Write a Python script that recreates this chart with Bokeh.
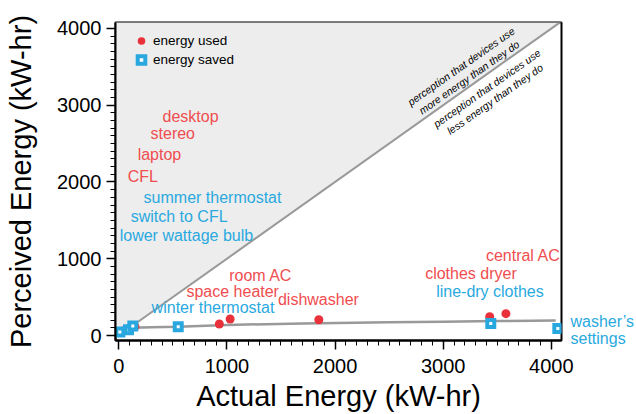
import math
from bokeh.plotting import figure
from bokeh.models import Range1d, Label, Legend, LegendItem, FixedTicker, LinearAxis
from bokeh.embed import file_html
from bokeh.resources import INLINE

# ---------------- data ----------------
used_names = ["CFL", "laptop", "stereo", "desktop", "space heater", "room AC",
              "dishwasher", "clothes dryer", "central AC"]
used_actual = [20, 45, 70, 150, 930, 1030, 1850, 3430, 3580]
used_perceived = [40, 60, 75, 115, 150, 215, 205, 245, 285]

saved_names = ["lower wattage bulb", "switch to CFL", "summer thermostat",
               "winter thermostat", "line-dry clothes", "washer\u2019s\nsettings"]
saved_actual = [10, 90, 130, 550, 3440, 4060]
saved_perceived = [45, 75, 125, 115, 155, 90]

fit_actual = [5, 30, 80, 130, 300, 550, 1000, 1700, 2500, 3000, 3500, 4040]
fit_perceived = [20, 60, 90, 100, 108, 115, 138, 157, 172, 180, 188, 195]

x_ticks = [0, 1000, 2000, 3000, 4000]
y_ticks = [0, 1000, 2000, 3000, 4000]

# label anchor positions (annotation layout, data units)
used_label_x = [83, 175, 294, 405, 626, 1021, 1472, 2833, 3395]
used_label_y = [2071, 2356, 2628, 2848, 570, 777, 466, 803, 1036]
saved_label_x = [9, 110, 230, 304, 2935, 4177]
saved_label_y = [1307, 1553, 1799, 362, 570, 181]

X_START, X_END = -30, 4094
Y_START, Y_END = -65, 4078

RED = "#e8313a"
RED_TXT = "#ef4d4f"
BLUE = "#29a8e0"
BLUE_TXT = "#2aa9e0"
FONT = "Liberation Sans"

p = figure(width=636, height=414, output_backend="svg", toolbar_location=None,
           x_range=Range1d(X_START, X_END), y_range=Range1d(Y_START, Y_END),
           min_border_left=115, min_border_right=73, min_border_top=22,
           min_border_bottom=72)
p.background_fill_color = "white"
p.border_fill_color = "white"
p.outline_line_color = "black"
p.outline_line_width = 2
p.xgrid.visible = False
p.ygrid.visible = False

# shaded region above y = x
p.patch([0, 10000, -1000, -1000], [0, 10000, 10000, 0],
        fill_color="#ededed", line_color=None)
p.line([0, 10000], [0, 10000], line_color="#999999", line_width=2)

# fitted curve
p.line(fit_actual, fit_perceived, line_color="#999999", line_width=2.5)

r_used = p.scatter(used_actual, used_perceived, marker="circle", size=9,
                   fill_color=RED, line_color=None)
r_saved = p.scatter(saved_actual, saved_perceived, marker="square", size=7,
                    fill_color="white", line_color=BLUE, line_width=4,
                    line_join="miter")

# text labels; those beyond the plotted x range go on a bare right-hand axis
ppy = 320 / (Y_END - Y_START)   # pixels per data unit (y)
LINE_STEP = 17 / ppy

right_ticks, right_over = [], {}

def add_labels(names, xs, ys, color):
    for name, x, y in zip(names, xs, ys):
        lines = name.split("\n")
        for i, line in enumerate(lines):
            yy = y - i * LINE_STEP
            if x > X_END:
                right_ticks.append(round(yy))
                right_over[round(yy)] = line
            else:
                p.add_layout(Label(x=x, y=yy, text=line,
                                   text_color=color, text_font=FONT,
                                   text_font_size="16px", text_align="left",
                                   text_baseline="middle"))

add_labels(used_names, used_label_x, used_label_y, RED_TXT)
add_labels(saved_names, saved_label_x, saved_label_y, BLUE_TXT)

if right_ticks:
    rax = LinearAxis(ticker=FixedTicker(ticks=right_ticks, minor_ticks=[]),
                     major_label_overrides=right_over)
    rax.axis_line_color = None
    rax.major_tick_line_color = None
    rax.minor_tick_line_color = None
    rax.major_tick_out = 0
    rax.major_label_standoff = 9
    rax.major_label_text_font = FONT
    rax.major_label_text_font_size = "16px"
    rax.major_label_text_color = BLUE_TXT
    p.add_layout(rax, "right")

# diagonal annotations
ang = math.radians(35)
diag_text = [("perception that devices use", 3165, 3508),
             ("more energy than they do", 3238, 3366),
             ("perception that devices use", 3404, 3223),
             ("less energy than they do", 3477, 3081)]
for t, x, y in diag_text:
    p.add_layout(Label(x=x, y=y, text=t, angle=ang, text_font=FONT,
                       text_font_style="italic", text_font_size="10.5px",
                       text_color="black", text_align="center",
                       text_baseline="middle"))

# axes
for ax, ticks in ((p.xaxis[0], x_ticks), (p.yaxis[0], y_ticks)):
    ax.ticker = FixedTicker(ticks=ticks,
                            minor_ticks=list(range(0, 4001, 100)))
    ax.axis_line_color = "black"
    ax.axis_line_width = 2
    ax.major_tick_line_color = "black"
    ax.major_tick_line_width = 1.5
    ax.minor_tick_line_color = "black"
    ax.minor_tick_line_width = 1
    ax.major_tick_in = 0
    ax.minor_tick_in = 0
    ax.major_tick_out = 9
    ax.minor_tick_out = 5
    ax.major_label_text_font = FONT
    ax.major_label_text_font_size = "20px"
    ax.major_label_text_color = "black"
    ax.axis_label_text_font = FONT
    ax.axis_label_text_font_size = "29px"
    ax.axis_label_text_font_style = "normal"
    ax.axis_label_text_color = "black"

p.xaxis[0].axis_label = "Actual Energy (kW-hr)"
p.yaxis[0].axis_label = "Perceived Energy (kW-hr)"
p.xaxis[0].major_label_standoff = 9
p.yaxis[0].major_label_standoff = 5
p.xaxis[0].axis_label_standoff = 4
p.yaxis[0].axis_label_standoff = 17

legend = Legend(items=[LegendItem(label="energy used", renderers=[r_used]),
                       LegendItem(label="energy saved", renderers=[r_saved])],
                location=(16, 271))
legend.border_line_color = None
legend.background_fill_alpha = 0
legend.padding = 0
legend.margin = 0
legend.spacing = 0
legend.glyph_width = 20
legend.glyph_height = 19
legend.label_height = 19
legend.label_standoff = 2
legend.label_text_font = FONT
legend.label_text_font_size = "13.5px"
legend.label_text_color = "black"
p.add_layout(legend)

open("out.html", "w").write(file_html(p, INLINE))
